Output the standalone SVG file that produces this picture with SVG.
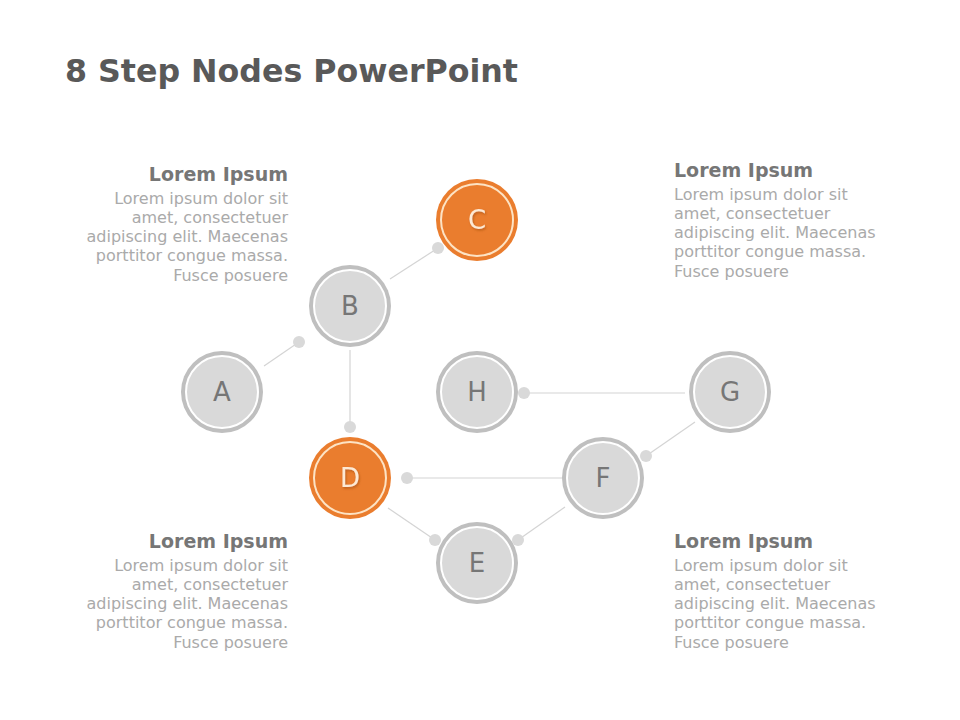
<svg xmlns="http://www.w3.org/2000/svg" width="960" height="720" viewBox="0 0 960 720">
<defs>
<style>
.title{font-family:"DejaVu Sans",Verdana,sans-serif;font-weight:bold;font-size:32px;fill:#595959}
.hd{font-family:"DejaVu Sans",Verdana,sans-serif;font-weight:bold;font-size:19px;fill:#767676}
.bd{font-family:"DejaVu Sans",Verdana,sans-serif;font-size:16px;fill:#aaaaaa}
.r{text-anchor:end}
.ring{fill:#bfbfbf}
.inner{fill:#d9d9d9;stroke:#ffffff;stroke-width:2}
.oring{fill:#ea7d2e}
.oinner{fill:#ea7d2e;stroke:#fde3c4;stroke-width:2}
.lbl{font-family:"DejaVu Sans",Verdana,sans-serif;font-size:26px;fill:#767676;text-anchor:middle}
.olbl{font-family:"DejaVu Sans",Verdana,sans-serif;font-size:26px;fill:#fde9d4;text-anchor:middle}
.ln{stroke:#d4d4d4;stroke-width:1.2;fill:none}
.dot{fill:#d9d9d9}
</style>
<filter id="sh" x="-20%" y="-20%" width="140%" height="140%"><feDropShadow dx="1" dy="1.5" stdDeviation="1" flood-color="#9a4a10" flood-opacity="0.6"/></filter>
</defs>
<rect width="960" height="720" fill="#ffffff"/>
<text class="title" x="65" y="82" textLength="453" lengthAdjust="spacingAndGlyphs">8 Step Nodes PowerPoint</text>

<g id="connectors">
<line class="ln" x1="264" y1="366" x2="299" y2="342"/><circle class="dot" cx="299" cy="342" r="6"/>
<line class="ln" x1="390" y1="279" x2="438" y2="248"/><circle class="dot" cx="438" cy="248" r="6"/>
<line class="ln" x1="350" y1="350" x2="350" y2="427"/><circle class="dot" cx="350" cy="427" r="6"/>
<line class="ln" x1="524" y1="393" x2="685" y2="393"/><circle class="dot" cx="524" cy="393" r="6"/>
<line class="ln" x1="695" y1="422" x2="646" y2="456"/><circle class="dot" cx="646" cy="456" r="6"/>
<line class="ln" x1="562" y1="478" x2="407" y2="478"/><circle class="dot" cx="407" cy="478" r="6"/>
<line class="ln" x1="388" y1="508" x2="435" y2="540"/><circle class="dot" cx="435" cy="540" r="6"/>
<line class="ln" x1="565" y1="507" x2="518" y2="540"/><circle class="dot" cx="518" cy="540" r="6"/>
</g>

<g id="node-A"><circle class="ring" cx="222" cy="392" r="41"/><circle class="inner" cx="222" cy="392" r="36"/><text class="lbl" x="222" y="401">A</text></g>
<g id="node-B"><circle class="ring" cx="350" cy="306" r="41"/><circle class="inner" cx="350" cy="306" r="36"/><text class="lbl" x="350" y="315">B</text></g>
<g id="node-C"><circle class="oring" cx="477" cy="220" r="41"/><circle class="oinner" cx="477" cy="220" r="36"/><text class="olbl" x="477" y="229" filter="url(#sh)">C</text></g>
<g id="node-D"><circle class="oring" cx="350" cy="478" r="41"/><circle class="oinner" cx="350" cy="478" r="36"/><text class="olbl" x="350" y="487" filter="url(#sh)">D</text></g>
<g id="node-E"><circle class="ring" cx="477" cy="563" r="41"/><circle class="inner" cx="477" cy="563" r="36"/><text class="lbl" x="477" y="572">E</text></g>
<g id="node-F"><circle class="ring" cx="603" cy="478" r="41"/><circle class="inner" cx="603" cy="478" r="36"/><text class="lbl" x="603" y="487">F</text></g>
<g id="node-G"><circle class="ring" cx="730" cy="392" r="41"/><circle class="inner" cx="730" cy="392" r="36"/><text class="lbl" x="730" y="401">G</text></g>
<g id="node-H"><circle class="ring" cx="477" cy="392" r="41"/><circle class="inner" cx="477" cy="392" r="36"/><text class="lbl" x="477" y="401">H</text></g>

<g id="text-top-left">
<text class="hd r" x="288" y="181">Lorem Ipsum</text>
<text class="bd r" x="288" y="204">Lorem ipsum dolor sit</text>
<text class="bd r" x="288" y="223">amet, consectetuer</text>
<text class="bd r" x="288" y="242">adipiscing elit. Maecenas</text>
<text class="bd r" x="288" y="261">porttitor congue massa.</text>
<text class="bd r" x="288" y="281">Fusce posuere</text>
</g>
<g id="text-top-right">
<text class="hd" x="674" y="177">Lorem Ipsum</text>
<text class="bd" x="674" y="200">Lorem ipsum dolor sit</text>
<text class="bd" x="674" y="219">amet, consectetuer</text>
<text class="bd" x="674" y="238">adipiscing elit. Maecenas</text>
<text class="bd" x="674" y="257">porttitor congue massa.</text>
<text class="bd" x="674" y="277">Fusce posuere</text>
</g>
<g id="text-bottom-left">
<text class="hd r" x="288" y="548">Lorem Ipsum</text>
<text class="bd r" x="288" y="571">Lorem ipsum dolor sit</text>
<text class="bd r" x="288" y="590">amet, consectetuer</text>
<text class="bd r" x="288" y="609">adipiscing elit. Maecenas</text>
<text class="bd r" x="288" y="628">porttitor congue massa.</text>
<text class="bd r" x="288" y="648">Fusce posuere</text>
</g>
<g id="text-bottom-right">
<text class="hd" x="674" y="548">Lorem Ipsum</text>
<text class="bd" x="674" y="571">Lorem ipsum dolor sit</text>
<text class="bd" x="674" y="590">amet, consectetuer</text>
<text class="bd" x="674" y="609">adipiscing elit. Maecenas</text>
<text class="bd" x="674" y="628">porttitor congue massa.</text>
<text class="bd" x="674" y="648">Fusce posuere</text>
</g>
</svg>
